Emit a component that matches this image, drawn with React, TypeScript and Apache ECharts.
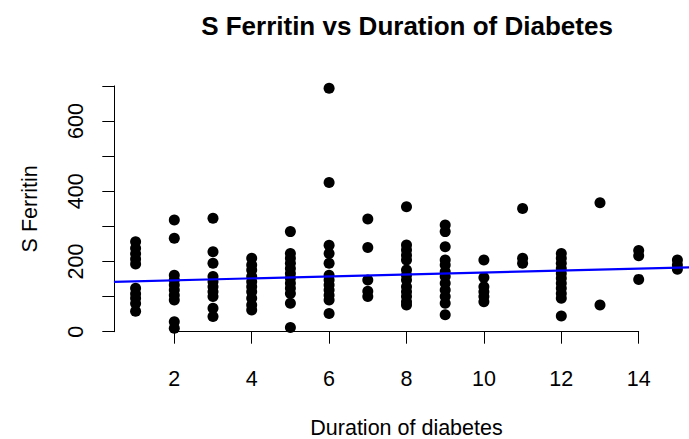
import React, { useEffect, useRef } from "react";
import * as echarts from "echarts";

// Duration of diabetes (years) and S Ferritin values read per duration
const durations = [1, 2, 3, 4, 5, 6, 7, 8, 9, 10, 11, 12, 13, 14, 15];
const ferritinD1 = [256, 238, 222, 207, 193, 124, 108, 95, 80, 58];
const ferritinD2 = [318, 266, 161, 147, 133, 119, 104, 90, 28, 10];
const ferritinD3 = [323, 228, 195, 157, 142, 128, 114, 100, 67, 43];
const ferritinD4 = [209, 190, 176, 157, 142, 128, 114, 95, 76, 62];
const ferritinD5 = [285, 223, 209, 195, 180, 166, 152, 138, 124, 109, 81, 12];
const ferritinD6 = [693, 425, 246, 223, 195, 161, 147, 133, 119, 104, 90, 52];
const ferritinD7 = [321, 240, 147, 115, 100];
const ferritinD8 = [356, 247, 233, 218, 204, 176, 161, 147, 128, 114, 100, 85, 76];
const ferritinD9 = [304, 285, 242, 204, 190, 171, 157, 138, 119, 100, 81, 48];
const ferritinD10 = [204, 154, 128, 114, 100, 85];
const ferritinD11 = [351, 209, 195];
const ferritinD12 = [223, 209, 195, 180, 166, 152, 138, 124, 109, 95, 45];
const ferritinD13 = [367, 76];
const ferritinD14 = [231, 216, 149];
const ferritinD15 = [204, 190, 178];

const ferritinByDuration = [
  ferritinD1, ferritinD2, ferritinD3, ferritinD4, ferritinD5,
  ferritinD6, ferritinD7, ferritinD8, ferritinD9, ferritinD10,
  ferritinD11, ferritinD12, ferritinD13, ferritinD14, ferritinD15,
];

// Fitted regression line end points (spanning the plot region)
const fitX = [0.44, 15.56];
const fitY = [142, 184];

// Plot region (data) range and displayed axis ticks
const plotXRange = [0.44, 15.56];
const xTicks = [2, 4, 6, 8, 10, 12, 14];
const yRange = [0, 700];
const yTickLabels = [0, 200, 400, 600];

const FONT = "'Liberation Sans', Arial, Helvetica, sans-serif";

export default function App() {
  const ref = useRef<HTMLDivElement>(null);

  useEffect(() => {
    if (!ref.current) return;
    const chart = echarts.init(ref.current, null, { renderer: "svg" });

    const points: number[][] = [];
    durations.forEach((d, i) => {
      ferritinByDuration[i].forEach((v) => points.push([d, v]));
    });

    const pxPerUnit = 38.7;
    const x2px = 174.3;
    const dataLeft = x2px + (plotXRange[0] - xTicks[0]) * pxPerUnit;
    const dataWidth = (plotXRange[1] - plotXRange[0]) * pxPerUnit;

    const hiddenAxis = {
      axisLine: { show: false },
      axisTick: { show: false },
      axisLabel: { show: false },
      splitLine: { show: false },
    };

    chart.setOption({
      animation: false,
      backgroundColor: "#ffffff",
      title: {
        text: "S Ferritin vs Duration of Diabetes",
        left: 402,
        top: 8,
        textAlign: "center",
        textStyle: {
          fontFamily: FONT,
          fontWeight: "bold",
          fontSize: 26,
          color: "#000",
        },
      },
      grid: [
        {
          left: x2px, width: 12 * pxPerUnit, top: 85.9, height: 245.8,
          containLabel: false, outerBoundsMode: "none",
        },
        {
          left: dataLeft, width: dataWidth, top: 85.9, height: 245.8,
          containLabel: false, outerBoundsMode: "none",
        },
      ],
      xAxis: [
        {
          type: "value",
          gridIndex: 0,
          min: xTicks[0],
          max: xTicks[xTicks.length - 1],
          interval: 2,
          offset: 6,
          name: "Duration of diabetes",
          nameLocation: "middle",
          nameGap: 79.5,
          nameTextStyle: { fontFamily: FONT, fontSize: 21.5, lineHeight: 21, color: "#000" },
          axisLine: { show: true, lineStyle: { color: "#000", width: 1 } },
          axisTick: { show: true, inside: false, length: 12, lineStyle: { color: "#000" } },
          axisLabel: {
            show: true,
            margin: 30,
            fontFamily: FONT,
            fontSize: 21.5,
            color: "#000",
          },
          splitLine: { show: false },
        },
        {
          type: "value",
          gridIndex: 1,
          min: plotXRange[0],
          max: plotXRange[1],
          ...hiddenAxis,
        },
      ],
      yAxis: [
        {
          type: "value",
          gridIndex: 0,
          min: yRange[0],
          max: yRange[1],
          interval: 100,
          offset: 60,
          name: "S Ferritin",
          nameLocation: "middle",
          nameRotate: 90,
          nameGap: 73,
          nameTextStyle: { fontFamily: FONT, fontSize: 21.5, color: "#000" },
          axisLine: { show: true, lineStyle: { color: "#000", width: 1 } },
          axisTick: { show: true, inside: false, length: 12, lineStyle: { color: "#000" } },
          axisLabel: {
            show: true,
            rotate: 90,
            margin: 27,
            fontFamily: FONT,
            fontSize: 21.5,
            color: "#000",
            formatter: (v: number) => (yTickLabels.includes(v) ? String(v) : ""),
          },
          splitLine: { show: false },
        },
        {
          type: "value",
          gridIndex: 1,
          min: yRange[0],
          max: yRange[1],
          ...hiddenAxis,
        },
      ],
      series: [
        {
          type: "scatter",
          xAxisIndex: 1,
          yAxisIndex: 1,
          data: points,
          symbol: "circle",
          symbolSize: 11,
          clip: false,
          itemStyle: { color: "#000", opacity: 1 },
          z: 3,
        },
        {
          type: "line",
          xAxisIndex: 1,
          yAxisIndex: 1,
          data: fitX.map((x, i) => [x, fitY[i]]),
          showSymbol: false,
          symbol: "none",
          clip: true,
          lineStyle: { color: "#0000ff", width: 2.2 },
          z: 4,
        },
      ],
    });

    return () => chart.dispose();
  }, []);

  return (
    <div
      ref={ref}
      style={{ width: 689, height: 439, position: "absolute", left: 0, top: 0 }}
    />
  );
}
